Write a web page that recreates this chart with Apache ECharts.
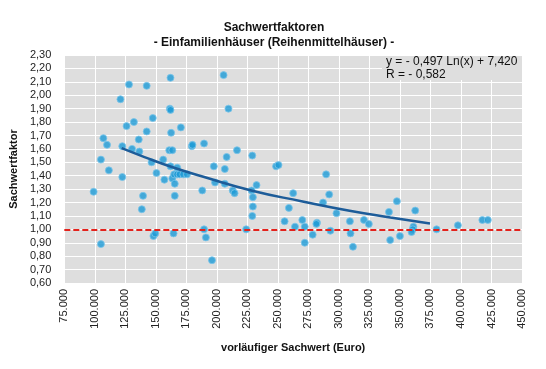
<!DOCTYPE html>
<html>
<head>
<meta charset="utf-8">
<script src="https://cdn.jsdelivr.net/npm/echarts@6/dist/echarts.min.js"></script>
<style>html,body{margin:0;padding:0;background:#fff;}#c{width:546px;height:369px;}</style>
</head>
<body>
<div id="c"></div>
<script>
// vorläufiger Sachwert (Euro)
const sachwert = [128000,142500,162000,121000,161500,162000,126000,132000,147500,142500,162500,170500,107000,110000,136000,122500,130500,136500,161000,163500,179500,180000,189500,105000,146500,156000,111500,162000,167500,122500,150500,157000,163500,165000,167500,169500,172500,175500,165500,197500,198500,188000,99000,139500,165500,138500,189500,191000,148000,149500,164500,105000,196000,205500,209500,216500,208000,229000,206500,248500,250500,289500,206500,232500,213000,214500,228500,229500,262500,292000,287000,229500,259000,298000,229000,255500,270000,282000,281500,264000,272000,309000,224000,293000,278500,309500,272000,311500,347500,341000,362500,320500,324500,397500,417500,422000,380000,361000,360500,359500,350000,342000];
// Sachwertfaktor
const faktor = [2.08,2.07,2.13,1.97,1.90,1.89,1.77,1.80,1.83,1.73,1.72,1.76,1.68,1.63,1.67,1.62,1.60,1.58,1.59,1.59,1.62,1.63,1.64,1.52,1.50,1.52,1.44,1.47,1.46,1.39,1.42,1.37,1.38,1.41,1.41,1.41,1.41,1.41,1.34,1.47,1.35,1.29,1.28,1.25,1.25,1.15,1.00,0.94,0.95,0.97,0.97,0.89,0.77,2.15,1.90,1.59,1.54,1.55,1.45,1.47,1.48,1.41,1.34,1.33,1.29,1.27,1.29,1.24,1.27,1.26,1.20,1.17,1.16,1.12,1.10,1.06,1.07,1.05,1.04,1.02,1.02,1.06,1.00,0.99,0.96,0.97,0.90,0.87,1.21,1.13,1.14,1.07,1.04,1.03,1.07,1.07,1.00,1.02,1.00,0.98,0.95,0.92];
// trend line samples
const trendX = [122000,140700,165000,188200,229000,269200,308700,342200,374600];
const trendY = [1.605,1.539,1.459,1.394,1.288,1.210,1.139,1.089,1.044];
const referenceLevel = 1.0;
const titleLines = ['Sachwertfaktoren','- Einfamilienhäuser (Reihenmittelhäuser) -'];
const equationLines = ['y = - 0,497 Ln(x) + 7,420','R = - 0,582'];
const xName = 'vorläufiger Sachwert (Euro)';
const yName = 'Sachwertfaktor';

const FONT = 'Arial, "Liberation Sans", sans-serif';
const chart = echarts.init(document.getElementById('c'), null, {renderer:'canvas'});
const pts = sachwert.map((x,i)=>[x, faktor[i]]);
const trend = trendX.map((x,i)=>[x, trendY[i]]);

chart.setOption({
  animation:false,
  backgroundColor:'#ffffff',
  title:{
    text: titleLines.join('\n'),
    left: 269, top: 15, textAlign:'center',
    textStyle:{fontFamily:FONT, fontSize:12, fontWeight:'bold', color:'#111', lineHeight:15}
  },
  grid:{left:61, right:24, top:55, bottom:86, show:true, backgroundColor:'#dedede', borderWidth:0},
  xAxis:{
    type:'value', min:75000, max:450000, interval:25000,
    name:xName, nameLocation:'middle', nameGap:59,
    nameTextStyle:{fontFamily:FONT, fontSize:11, fontWeight:'bold', color:'#111'},
    axisLine:{show:false}, axisTick:{show:false},
    axisLabel:{rotate:90, margin:6, fontFamily:FONT, fontSize:11, color:'#222',
      formatter:v=>String(v).replace(/\B(?=(\d{3})+(?!\d))/g,'.')},
    splitLine:{show:true, lineStyle:{color:'#ffffff', width:1}}
  },
  yAxis:{
    type:'value', min:0.6, max:2.3, interval:0.1,
    name:yName, nameLocation:'middle', nameGap:37, nameRotate:90,
    nameTextStyle:{fontFamily:FONT, fontSize:11, fontWeight:'bold', color:'#111'},
    axisLine:{show:false}, axisTick:{show:false},
    axisLabel:{margin:13, fontFamily:FONT, fontSize:11, color:'#222',
      formatter:v=>v.toFixed(2).replace('.',',')},
    splitLine:{show:true, lineStyle:{color:'#ffffff', width:1}}
  },
  graphic:[
    {type:'rect', shape:{x:382, y:56, width:140, height:24}, style:{fill:'#dedede'}, z:50},
    {type:'text', left:386, top:55, z:51,
     style:{text:equationLines.join('\n'), font:'12px '+FONT, fill:'#111', lineHeight:13}}
  ],
  series:[
    {
      type:'scatter', data:pts, symbol:'circle', symbolSize:7,
      itemStyle:{color:'#1c9ad6', borderColor:'#7cc6ea', borderWidth:1},
      markLine:{
        silent:true, symbol:['none','none'], label:{show:false},
        lineStyle:{color:'#e3221c', width:2, type:[6,3]},
        data:[{yAxis:referenceLevel}]
      },
      z:2
    },
    {
      type:'line', data:trend, smooth:true, showSymbol:false,
      lineStyle:{color:'#1d5c99', width:2.5}, z:3
    }
  ]
});
</script>
</body>
</html>
